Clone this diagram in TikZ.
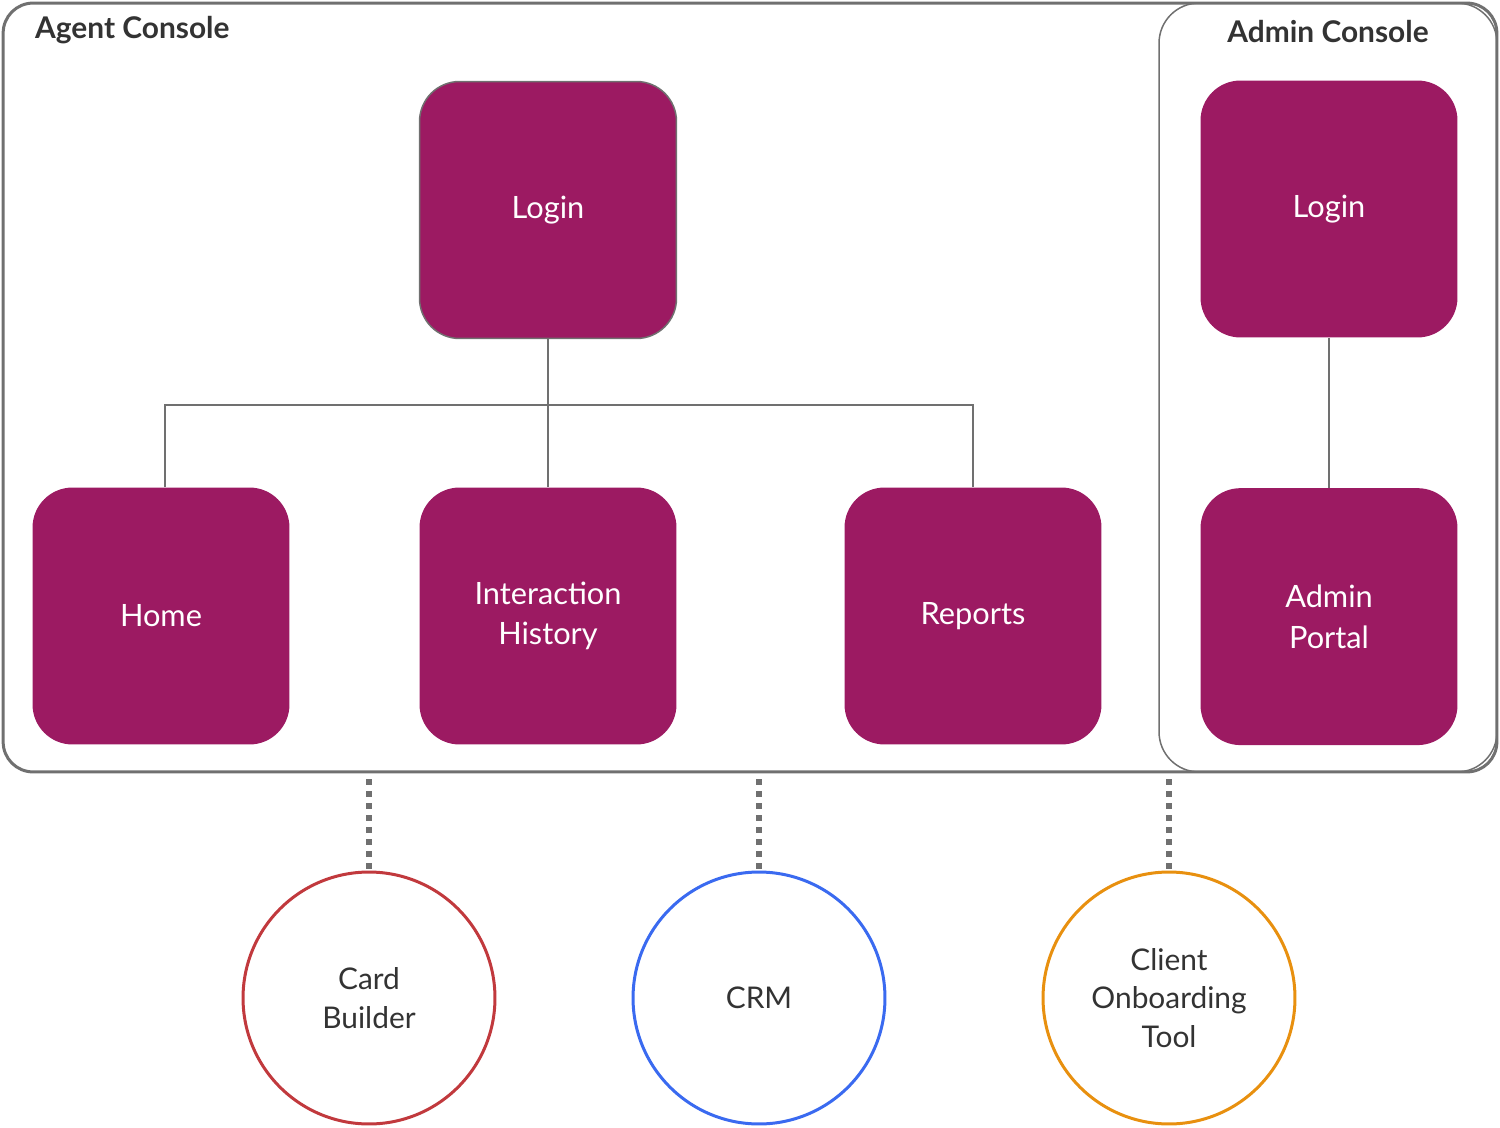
\documentclass[tikz,border=0pt]{standalone}
\usepackage{fontspec}
\setmainfont{Lato}
\usepackage{xcolor}
\usetikzlibrary{positioning, calc}
\definecolor{pagemagenta}{HTML}{9C1A62}
\definecolor{framegray}{HTML}{707070}
\definecolor{inkgray}{HTML}{333333}
\definecolor{cardred}{HTML}{C1393D}
\definecolor{crmblue}{HTML}{3A6AF0}
\definecolor{onbdorange}{HTML}{E8900F}

\begin{document}
\begin{tikzpicture}[x=0.02cm, y=-0.02cm,
  frame/.style={draw=framegray, rounded corners=6mm, line width=0.6mm,
    minimum height=153.8mm, inner sep=0pt},
  screen/.style={rounded corners=8mm, fill=pagemagenta, minimum width=51.4mm,
    minimum height=51.4mm, font=\fontsize{17.5}{23}\selectfont, text=white,
    align=center, inner sep=0pt},
  tool/.style={circle, fill=white, line width=0.6mm, minimum size=50.4mm,
    font=\fontsize{17}{22}\selectfont, text=inkgray, align=center},
  link/.style={draw=framegray, line width=0.3mm},
  dotlink/.style={draw=framegray, line width=1.1mm,
    dash pattern=on 1.2mm off 1.2mm}
]
  \useasboundingbox (0,0) rectangle (1500,1128);
  % consoles
  \node[frame, minimum width=298.8mm] (agent) at (750,387.5) {};
  \node[frame, minimum width=67.6mm, line width=0.3mm,
    rounded corners=8mm] (admin) at (1328,387.5) {};
  \node[anchor=west, font=\fontsize{17}{20}\selectfont\bfseries,
    text=inkgray] (agenttitle) at (29,30) {Agent Console};
  \node[font=\fontsize{17}{20}\selectfont\bfseries, text=inkgray]
    (admintitle) at (1328,32) {Admin Console};
  % agent screens
  \node[screen, draw=framegray, line width=0.3mm] (login) at (548,210) {Login};
  \node[screen] (home) at (161,616) {Home};
  \node[screen] (hist) at (548,616) {Interaction\\History};
  \node[screen] (rep)  at (973,616) {Reports};
  % admin screens
  \node[screen] (alogin) at (1329,209) {Login};
  \node[screen, below=30mm of alogin] (portal) {Admin\\Portal};
  \coordinate (bus) at (548,405);
  \draw[link] (login.south) -- (hist.north);
  \draw[link] ([xshift=0.8mm]home.north) |- (bus) -| (rep.north);
  \draw[link] (alogin.south) -- (portal.north);
  % external tools
  \node[tool, draw=cardred]    (card)    at (369,998)  {Card\\Builder};
  \node[tool, draw=crmblue]    (crm)     at (759,998)  {CRM};
  \node[tool, draw=onbdorange] (onboard) at (1169,998) {Client\\Onboarding\\Tool};
  \draw[dotlink, shorten <=1.2mm] (card.north |- agent.south) -- (card.north);
  \draw[dotlink, shorten <=1.2mm] (crm.north |- agent.south) -- (crm.north);
  \draw[dotlink, shorten <=1.2mm] (onboard.north |- agent.south) -- (onboard.north);
\end{tikzpicture}
\end{document}
